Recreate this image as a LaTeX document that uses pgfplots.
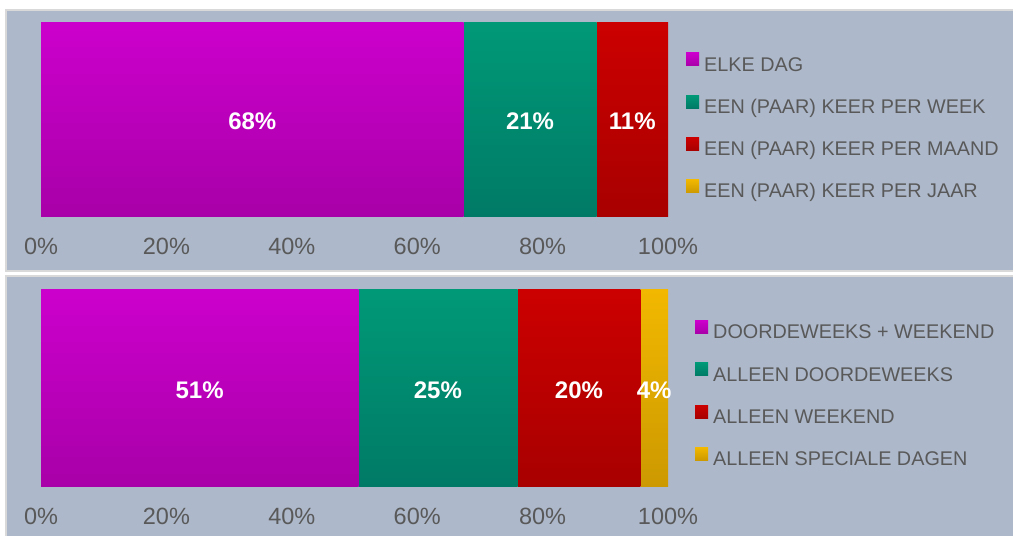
\documentclass[border=0pt]{standalone}
\usepackage{pgfplots}
\pgfplotsset{compat=1.18}
\usepackage{fontspec}
\setmainfont{Liberation Sans}
\definecolor{bg}{HTML}{ADB8CA}
\definecolor{bd}{HTML}{D9D9D9}
\definecolor{txt}{HTML}{595959}
\definecolor{magT}{HTML}{CC00CC}
\definecolor{magB}{HTML}{A800A8}
\definecolor{tealT}{HTML}{009977}
\definecolor{tealB}{HTML}{007A66}
\definecolor{redT}{HTML}{CC0000}
\definecolor{redB}{HTML}{A80000}
\definecolor{yelT}{HTML}{F2B800}
\definecolor{yelB}{HTML}{CC9900}
\pgfplotsset{
  legsq/.style={legend image code/.code={\fill[##1] (0bp,0.5bp) rectangle (13bp,13.5bp);}},
  geom/.style={scale only axis, width=627bp, xmin=0, xmax=100, ymin=-0.5, ymax=0.5, clip=false},
  panel/.style={
    geom, xbar stacked, bar width=1,
    axis line style={draw=none}, major tick style={draw=none},
    ytick=\empty,
    xtick={0,20,40,60,80,100},
    xticklabels={0\%,20\%,40\%,60\%,80\%,100\%},
    xticklabel style={anchor=base, yshift=-37.5bp, font=\fontsize{23.5bp}{27bp}\selectfont, text=txt},
    legend cell align=left,
    legend style={draw=none, fill=none, inner sep=0pt, font=\fontsize{19.8bp}{23bp}\selectfont, text=txt, row sep=19.5bp, anchor=north west,
      nodes={inner sep=0pt, text height=14bp, text depth=4.5bp},
      /tikz/every odd column/.append style={column sep=5bp}},
  },
  labels/.style={
    geom, hide axis,
  },
  lbl/.style={only marks, mark=none, nodes near coords, point meta=explicit symbolic,
    every node near coord/.append style={anchor=center, yshift=-1.5bp, text=white, font=\bfseries\fontsize{24bp}{27bp}\selectfont}},
}
\begin{document}
\begin{tikzpicture}
\useasboundingbox (0,0) rectangle (1013bp,536bp);
\clip (0,0) rectangle (1013bp,536bp);
\fill[white] (0,0) rectangle (1013bp,536bp);
\filldraw[fill=bg, draw=bd, line width=1.6bp] (6bp,265bp) rectangle (1030bp,526bp);
\filldraw[fill=bg, draw=bd, line width=1.6bp] (6bp,-20bp) rectangle (1030bp,260bp);

% top panel
\begin{axis}[panel, height=195bp, at={(41bp,319bp)}, anchor=south west,
  legend style={at={(axis description cs:1.0287,0.8425)}}]
\addplot[top color=magT, bottom color=magB, draw=none, legsq] coordinates {(67.4,0)};
\addlegendentry{ELKE DAG}
\addplot[top color=tealT, bottom color=tealB, draw=none, legsq] coordinates {(21.2,0)};
\addlegendentry{EEN (PAAR) KEER PER WEEK}
\addplot[top color=redT, bottom color=redB, draw=none, legsq] coordinates {(11.4,0)};
\addlegendentry{EEN (PAAR) KEER PER MAAND}
\addlegendimage{legsq, top color=yelT, bottom color=yelB, draw=none}
\addlegendentry{EEN (PAAR) KEER PER JAAR}
\end{axis}
\begin{axis}[labels, height=195bp, at={(41bp,319bp)}, anchor=south west]
\addplot[lbl] coordinates {(33.7,0) [68\%] (78.0,0) [21\%] (94.3,0) [11\%]};
\end{axis}

% bottom panel
\begin{axis}[panel, height=197bp, at={(41bp,49bp)}, anchor=south west,
  legend style={at={(axis description cs:1.0431,0.846)}}]
\addplot[top color=magT, bottom color=magB, draw=none, legsq] coordinates {(50.6,0)};
\addlegendentry{DOORDEWEEKS + WEEKEND}
\addplot[top color=tealT, bottom color=tealB, draw=none, legsq] coordinates {(25.4,0)};
\addlegendentry{ALLEEN DOORDEWEEKS}
\addplot[top color=redT, bottom color=redB, draw=none, legsq] coordinates {(19.6,0)};
\addlegendentry{ALLEEN WEEKEND}
\addplot[top color=yelT, bottom color=yelB, draw=none, legsq] coordinates {(4.4,0)};
\addlegendentry{ALLEEN SPECIALE DAGEN}
\end{axis}
\begin{axis}[labels, height=197bp, at={(41bp,49bp)}, anchor=south west]
\addplot[lbl] coordinates {(25.3,0) [51\%] (63.3,0) [25\%] (85.8,0) [20\%] (97.8,0) [4\%]};
\end{axis}
\end{tikzpicture}
\end{document}
